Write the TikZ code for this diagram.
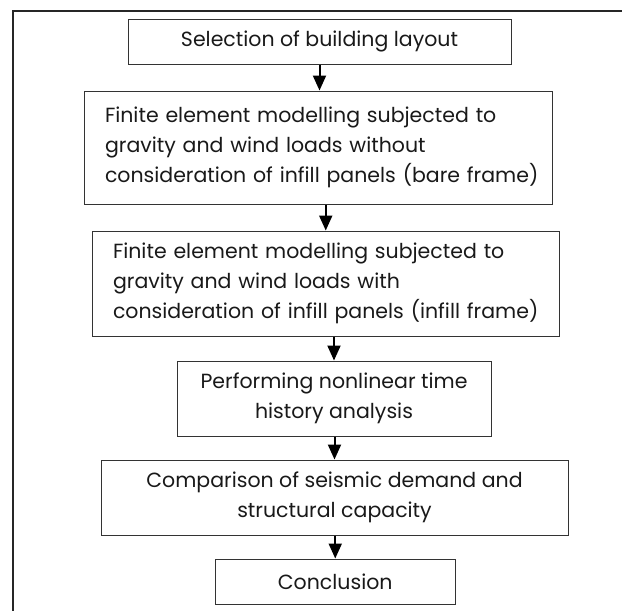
\documentclass[tikz,border=0pt]{standalone}
\usepackage{fontspec}
\setmainfont{Poppins}
\usetikzlibrary{arrows.meta}
\begin{document}
\begin{tikzpicture}[x=1pt,y=-1pt,
  box/.style={draw=black!80,line width=1pt,inner sep=0pt,
    font=\fontsize{20.5}{30}\selectfont,align=center,text=black!90},
  lbox/.style={box,align=left,inner xsep=21pt},
  arr/.style={line width=2pt,draw=black,-{Triangle[width=13pt,length=15pt]}}]
\useasboundingbox (0,0) rectangle (622,611);
\draw[line width=2pt,black!85] (13,611) -- (13,11) -- (622,11);
\node[box,minimum width=383pt,minimum height=45pt] (b1) at (319.5,41.5)
  {Selection of building layout};
\node[lbox,text width=426pt,minimum height=113pt] (b2) at (318,147.5)
  {\mbox{Finite element modelling subjected to}\\
   \mbox{gravity and wind loads without}\\
   \mbox{consideration of infill panels (bare frame)}};
\node[lbox,text width=425.5pt,minimum height=105pt] (b3) at (325.75,283.5)
  {\mbox{Finite element modelling subjected to}\\
   \mbox{gravity and wind loads with}\\
   \mbox{consideration of infill panels (infill frame)}};
\node[box,minimum width=314pt,minimum height=75pt] (b4) at (334,398.5)
  {Performing nonlinear time\\history analysis};
\node[box,minimum width=467pt,minimum height=75pt] (b5) at (334.5,497.5)
  {Comparison of seismic demand and\\structural capacity};
\node[box,minimum width=239.5pt,minimum height=45pt] (b6) at (335.25,581.5)
  {Conclusion};
\draw[arr] (b1.south) -- (b1.south |- b2.north);
\draw[arr] (b2.south -| b3.north) -- (b3.north);
\draw[arr] (b3.south -| b4.north) -- (b4.north);
\draw[arr] (b4.south -| b5.north) -- (b5.north);
\draw[arr] (b5.south -| b6.north) -- (b6.north);
\end{tikzpicture}
\end{document}
